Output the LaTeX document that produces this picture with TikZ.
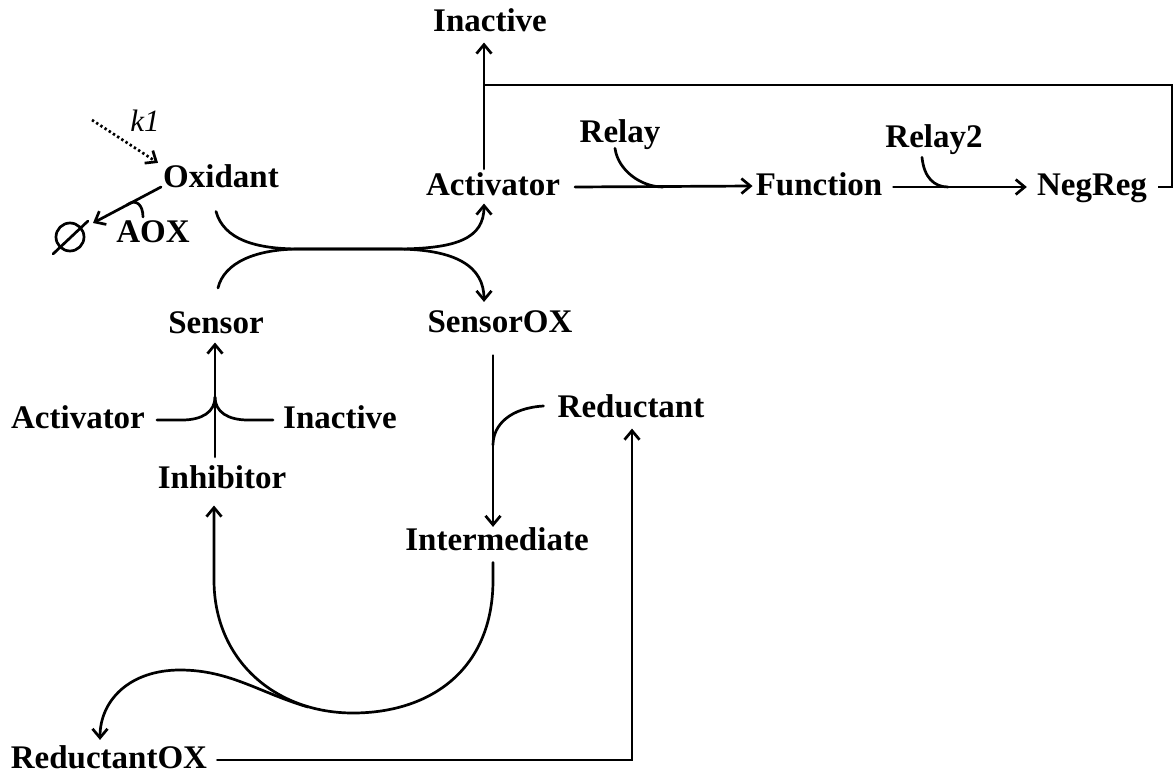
\documentclass[tikz,border=0pt]{standalone}
\usepackage{fontspec}
\setmainfont{Liberation Serif}
\usetikzlibrary{arrows.meta,calc}
\begin{document}
\begin{tikzpicture}[x=1pt,y=-1pt,
  lbl/.style={font=\fontsize{33}{36}\selectfont\bfseries, anchor=base, inner sep=2pt},
  ln/.style={line width=2.7pt, line cap=round},
  arr/.style={ln, -{Straight Barb[length=9pt,width=15pt]}},
  dotarr/.style={arr, dash pattern=on 2.4pt off 2.6pt, line cap=butt},
]
\useasboundingbox (0,0) rectangle (1174,778);

% species
\node[lbl] (inactTop) at (490,32) {Inactive};
\node[lbl, font=\fontsize{31}{36}\selectfont\itshape] (k1) at (145,132) {k1};
\node[lbl] (ox) at (221,187) {Oxidant};
\node[lbl] (aox) at (153,242) {AOX};
\node[draw, circle, ln, minimum size=28pt, inner sep=0pt] (null) at (70,237) {};
\node[lbl] (act) at (493,196) {Activator};
\node[lbl] (relay) at (620,143) {Relay};
\node[lbl] (fun) at (819,195) {Function};
\node[lbl] (relay2) at (934,148) {Relay2};
\node[lbl] (neg) at (1092,195) {NegReg};
\node[lbl] (sen) at (216,333) {Sensor};
\node[lbl] (senox) at (500,332) {SensorOX};
\node[lbl] (actL) at (78,428) {Activator};
\node[lbl] (inactL) at (340,428) {Inactive};
\node[lbl] (inh) at (222,488) {Inhibitor};
\node[lbl] (red) at (631,417) {Reductant};
\node[lbl] (inter) at (497,550) {Intermediate};
\node[lbl] (redox) at (109,768) {ReductantOX};

% guide columns and junctions
\coordinate (vA) at (484,0);
\coordinate (vS) at (215,0);
\coordinate (vI) at (493,0);
\coordinate (mergeL) at (300,249);
\coordinate (mergeR) at (395,249);
\coordinate (jS) at (215,397);
\coordinate (k1src) at (92,120);
\coordinate (rightTop) at (1172,85);

% slash of the empty set
\draw[ln] ($(null.center)+(-17,17)$) -- ($(null.center)+(18,-16)$);

% production of oxidant
\draw[dotarr] (k1src) -- ($(ox.north west)+(-3,1)$);

% removal of oxidant by AOX
\coordinate (oxOut) at ($(ox.base west)+(0,0)$);
\coordinate (nullIn) at ($(null.center)+(23,-14)$);
\draw[arr] (oxOut) -- (nullIn);
\draw[ln] ($(oxOut)!0.5!(nullIn)$) .. controls +(9,-7) and +(0,-12) .. ($(aox.north)+(-10,-1)$);

% oxidation of the sensor
\draw[arr] ($(ox.south)+(-5,22)$) .. controls +(8,28) and +(-45,0) .. (mergeL) -- (mergeR)
  .. controls +(62,0) and +(0,35) .. ($(act.south -| vA)+(0,5)$);
\draw[arr] ($(sen.north)+(2,-21)$) .. controls +(6,-25) and +(-45,0) .. (mergeL) -- (mergeR)
  .. controls +(62,0) and +(0,-35) .. ($(senox.north -| vA)+(0,-6)$);

% sensor regeneration
\draw[arr] ($(inh.north -| vS)+(0,-6)$) -- ($(sen.south -| vS)+(0,7)$);
\draw[ln] ($(actL.base east)+(10,-8)$) -- (182,420) .. controls (202,420) and (215,412) .. (jS);
\draw[ln] (jS) .. controls (215,412) and (228,420) .. (248,420) -- ($(inactL.base west)+(-8,-8)$);

% reduction of SensorOX
\draw[arr] ($(senox.south -| vI)+(0,21)$) -- ($(inter.north -| vI)+(0,2)$);
\draw[ln] ($(red.base west)+(-12,-11)$) .. controls (510,408) and (493,425) .. (493,445);

% Intermediate splits into Inhibitor and ReductantOX
\draw[arr] ($(inter.south -| vI)+(0,10)$) -- (493,580)
  .. controls (493,670) and (430,713) .. (353,713)
  .. controls (275,713) and (214,660) .. (214,580) -- ($(inh.south -| vS)+(-1,15)$);
\draw[arr] (308,707) .. controls (260,693) and (230,670) .. (180,670)
  .. controls (130,670) and (100,700) .. ($(redox.north)+(-9,-3)$);

% reductant recycling
\draw[arr] ($(redox.base east)+(8,-8)$) -| ($(red.south)+(1,9)$);

% activator output
\draw[arr] ($(act.north -| vA)+(0,-2)$) -- ($(inactTop.south -| vA)+(0,8)$);
\draw[arr] ($(act.base east)+(13,-9)$) -- ($(fun.base west)+(-1,-9)$);
\draw[ln] ($(relay.south)+(-5,-4)$) .. controls +(3,22) and +(-22,0) .. (663,187);
\draw[arr] ($(fun.base east)+(9,-8)$) -- ($(neg.base west)+(-8,-8)$);
\draw[ln] ($(relay2.south)+(-12,0)$) .. controls +(2,20) and +(-14,0) .. (948,187);

% negative feedback
\coordinate (negOut) at ($(neg.base east)+(9,-8)$);
\draw[ln, line cap=butt] (negOut) -- (negOut -| rightTop) |- (vA |- rightTop);
\end{tikzpicture}
\end{document}
